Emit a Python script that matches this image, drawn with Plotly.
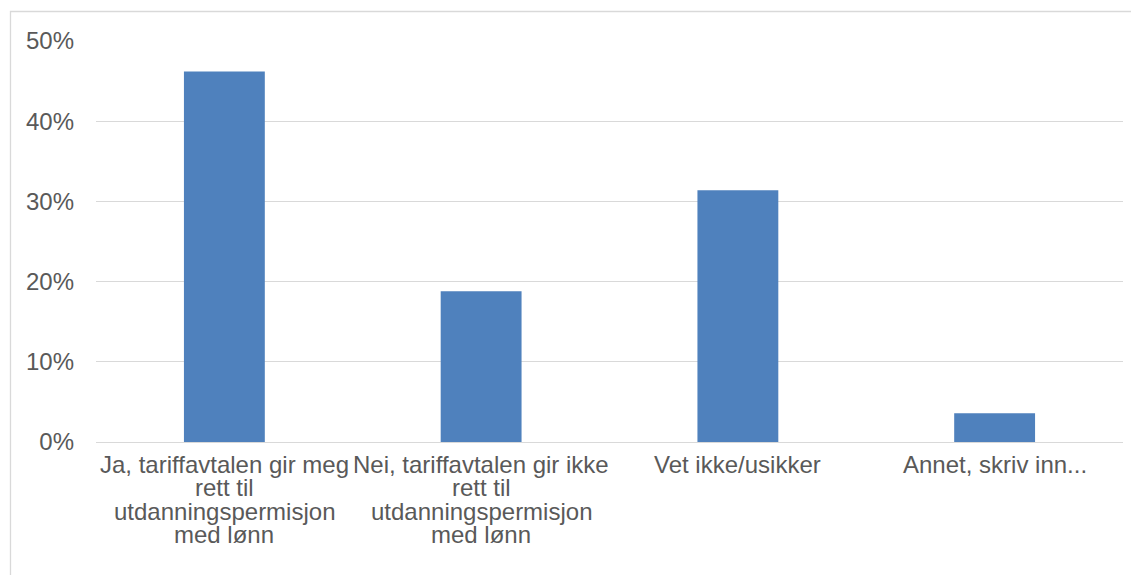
import plotly.graph_objects as go

categories = [
    "Ja, tariffavtalen gir meg<br>rett til<br>utdanningspermisjon<br>med lønn",
    "Nei, tariffavtalen gir ikke<br>rett til<br>utdanningspermisjon<br>med lønn",
    "Vet ikke/usikker",
    "Annet, skriv inn...",
]
values = [46.2, 18.8, 31.4, 3.6]
tick_vals = [0, 10, 20, 30, 40, 50]
tick_text = ["0%", "10%", "20%", "30%", "40%", "50%"]

# page is offset by default body margin of 8px
W, H = 1131, 567
L, R, T, B = 88, 16, 33, 133
pw, ph = W - L - R, H - T - B
FS = 24
LINE = 23.4
TXT = "#595959"

fig = go.Figure(go.Bar(x=categories, y=values, marker_color="#4F81BD",
                       marker_line_width=0, hoverinfo="skip"))

annotations = []
for cat in categories:
    for i, line in enumerate(cat.split("<br>")):
        annotations.append(dict(x=cat, y=0, xref="x", yref="paper", text=line,
                                showarrow=False, xanchor="center", yanchor="top",
                                yshift=-(8 + i * LINE), borderpad=0,
                                font=dict(size=FS, color=TXT)))

fig.update_layout(
    width=W, height=H,
    margin=dict(l=L, r=R, t=T, b=B, pad=0),
    paper_bgcolor="white", plot_bgcolor="white",
    bargap=0.685,
    font=dict(family="Liberation Sans, Arial, sans-serif", size=FS, color=TXT),
    showlegend=False,
    annotations=annotations,
    shapes=[dict(type="rect", xref="paper", yref="paper",
                 x0=(2.5 - L) / pw, x1=(W + 5 - L) / pw,
                 y0=-(B + 5) / ph, y1=1 + (T - 3.5) / ph,
                 line=dict(color="#D9D9D9", width=1.3), fillcolor="rgba(0,0,0,0)", layer="below")],
)
fig.update_yaxes(range=[0, 50], tickvals=tick_vals, ticktext=tick_text,
                 showgrid=True, gridcolor="#D9D9D9", gridwidth=1.3,
                 zeroline=False, showline=False, ticks="", ticklabelstandoff=21,
                 tickfont=dict(size=FS, color=TXT))
fig.update_xaxes(showline=True, linecolor="#D9D9D9", linewidth=1.3, ticks="",
                 showticklabels=False)

fig.write_html("out.html")
